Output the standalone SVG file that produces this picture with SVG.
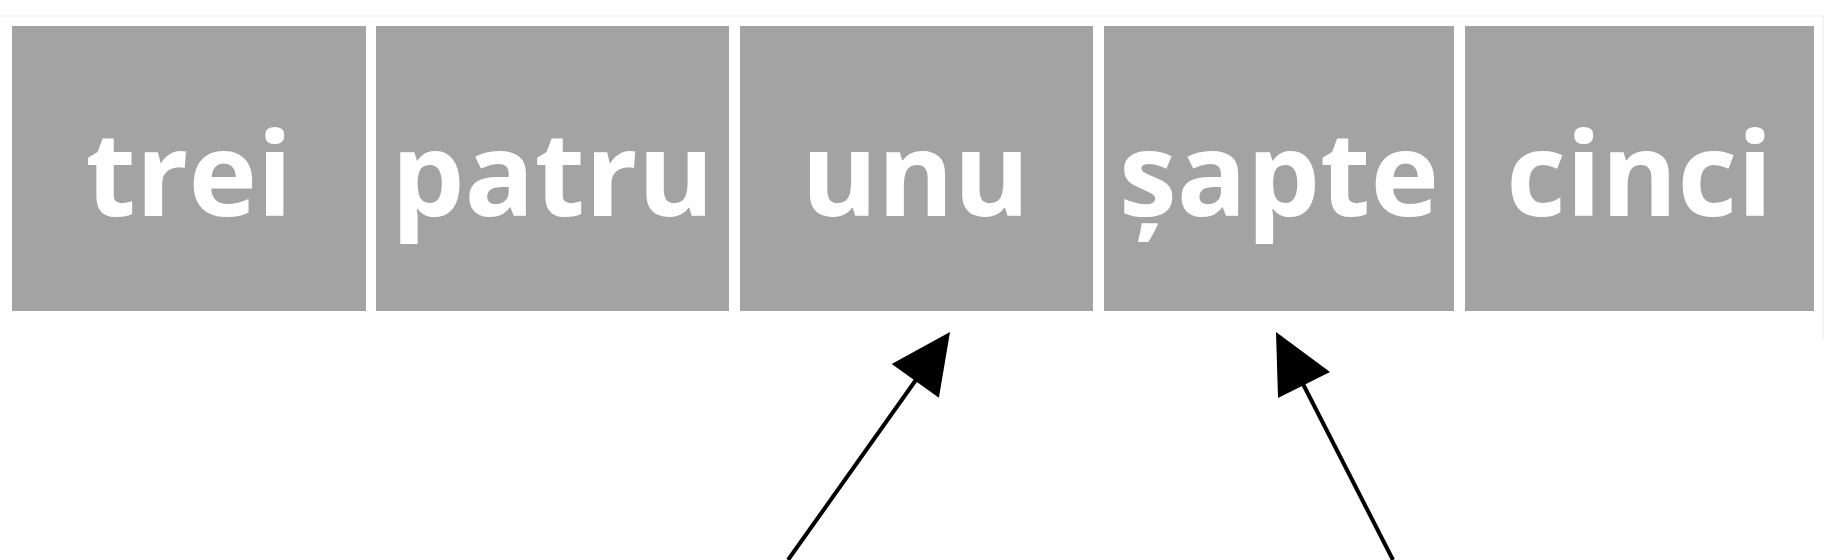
<svg xmlns="http://www.w3.org/2000/svg" width="1839" height="560" viewBox="0 0 1839 560">
<style>
.box{fill:#a3a3a3;}
.lbl{font-family:"Open Sans","Noto Sans","DejaVu Sans",sans-serif;font-weight:700;font-size:116px;fill:#ffffff;text-anchor:middle;}
.conn{stroke:#000000;stroke-width:4;fill:none;}
.head{fill:#000000;}
</style>
<rect x="0" y="0" width="1839" height="560" fill="#ffffff"/>
<polyline points="0,16 1823,16 1823,340" fill="none" stroke="#f2f2f2" stroke-width="1.5"/>
<g id="node-trei"><rect class="box" x="12" y="26" width="354" height="285"/><text class="lbl" x="189" y="216">trei</text></g>
<g id="node-patru"><rect class="box" x="376" y="26" width="353" height="285"/><text class="lbl" x="552.5" y="216">patru</text></g>
<g id="node-unu"><rect class="box" x="740" y="26" width="353" height="285"/><text class="lbl" x="915.5" y="216">unu</text></g>
<g id="node-sapte"><rect class="box" x="1104" y="26" width="350" height="285"/><text class="lbl" x="1279" y="216">șapte</text></g>
<g id="node-cinci"><rect class="box" x="1465" y="26" width="349" height="285"/><text class="lbl" x="1639.5" y="216">cinci</text></g>
<g id="connectors">
<line class="conn" x1="788" y1="560" x2="918" y2="377"/>
<polygon class="head" points="950,332 891.7,364.1 938.9,397.7"/>
<line class="conn" x1="1393" y1="560" x2="1302" y2="382"/>
<polygon class="head" points="1276,332 1278,398 1330,372"/>
</g>
</svg>
